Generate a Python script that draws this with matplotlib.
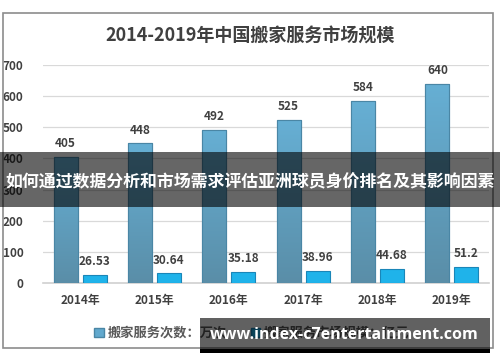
import matplotlib
matplotlib.use("Agg")
import matplotlib.pyplot as plt
import numpy as np
from matplotlib.patches import Rectangle
from matplotlib.colors import LinearSegmentedColormap

plt.rcParams['font.family'] = ['Noto Sans CJK SC', 'DejaVu Sans']

years = ['2014年', '2015年', '2016年', '2017年', '2018年', '2019年']
service_counts = [405, 448, 492, 525, 584, 640]
market_size = [26.53, 30.64, 35.18, 38.96, 44.68, 51.2]
count_labels = ['405', '448', '492', '525', '584', '640']
size_labels = ['26.53', '30.64', '35.18', '38.96', '44.68', '51.2']
legend_names = ['搬家服务次数：万次', '搬家服务市场规模：亿元']
title = '2014-2019年中国搬家服务市场规模'
banner = '如何通过数据分析和市场需求评估亚洲球员身价排名及其影响因素'
watermark = 'www.index-c7entertainment.com'

W, H = 500, 362
fig = plt.figure(figsize=(W / 100, H / 100), dpi=100)
fig.patch.set_facecolor('white')

# outer frame
fig.add_artist(Rectangle((3 / W, 1 - 348 / H), 490 / W, 335 / H, transform=fig.transFigure,
                         fill=False, edgecolor='#8c8c8c', linewidth=1.2))

ax = fig.add_axes([43 / W, 1 - 283 / H, 446 / W, 218 / H])
x = np.arange(len(years))
bw = 0.32
gap = 0.07
c1 = '#62a9ce'
c2 = '#1fb3ea'
b1 = ax.bar(x - (bw + gap) / 2, service_counts, bw, color=c1, edgecolor='#4a86a5', linewidth=0.8, zorder=3)
b2 = ax.bar(x + (bw + gap) / 2, market_size, bw, color=c2, edgecolor='#1a86b8', linewidth=0.8, zorder=3)

# gentle vertical gradient on tall bars
cmap = LinearSegmentedColormap.from_list('g', ['#5a8ea8', '#66afd4'])
grad = np.linspace(0, 1, 100).reshape(-1, 1)
for r in b1:
    x0, w, h = r.get_x(), r.get_width(), r.get_height()
    im = ax.imshow(grad, extent=[x0, x0 + w, 0, h], origin='lower', aspect='auto', cmap=cmap, zorder=3.1)
    im.set_clip_path(r)
    ax.add_patch(Rectangle((x0, 0), w, h, fill=False, edgecolor='#4a86a5', linewidth=0.8, zorder=3.2))

for r, lab in zip(b1, count_labels):
    ax.annotate(lab, (r.get_x() + r.get_width() / 2, r.get_height()), xytext=(0, 5),
                textcoords='offset points', ha='center', va='bottom', fontsize=8.5,
                fontweight='bold', color='#404040', zorder=5)
for r, lab in zip(b2, size_labels):
    ax.annotate(lab, (r.get_x() + r.get_width() / 2, r.get_height()), xytext=(0, 5),
                textcoords='offset points', ha='center', va='bottom', fontsize=8.5,
                fontweight='bold', color='#404040', zorder=5)

ax.set_xlim(-0.5, len(years) - 0.5)
ax.set_ylim(0, 700)
ax.set_yticks(np.arange(0, 701, 100))
ax.set_xticks(x)
ax.set_xticklabels(years)
ax.grid(axis='y', color='#d9d9d9', linewidth=0.9, zorder=0)
ax.set_axisbelow(True)
for s in ['top', 'right', 'left']:
    ax.spines[s].set_visible(False)
ax.spines['bottom'].set_color('#d0d0d0')
ax.spines['bottom'].set_linewidth(1.2)
ax.tick_params(axis='both', length=0, labelsize=8.5, labelcolor='#404040')
ax.tick_params(axis='y', pad=14)
ax.tick_params(axis='x', pad=8)
for t in ax.get_xticklabels() + ax.get_yticklabels():
    t.set_fontweight('bold')

fig.text(0.5, 1 - 36 / H, title, ha='center', va='center', fontsize=13,
         fontweight='bold', color='#404040')

handles = [Rectangle((0, 0), 1, 1, facecolor=c1, edgecolor='#4a86a5'),
           Rectangle((0, 0), 1, 1, facecolor=c2, edgecolor='#1a86b8')]
leg = fig.legend(handles, legend_names, loc='center', bbox_to_anchor=(252 / W, 1 - 333 / H),
                 ncol=2, frameon=False, fontsize=9.5, handlelength=0.7, handleheight=0.7,
                 handletextpad=0.3, columnspacing=1.8)
for t in leg.get_texts():
    t.set_color('#595959')
    t.set_fontweight('bold')

# banner overlay
fig.add_artist(Rectangle((0, 1 - 207 / H), 1, 55 / H, transform=fig.transFigure,
                         facecolor='black', alpha=0.6, edgecolor='none', zorder=10))
fig.text(0.5, 1 - 182 / H, banner, ha='center', va='center', fontsize=12.2,
         fontweight='bold', color='white', zorder=11)

# watermark
fig.add_artist(Rectangle((200 / W, 1 - 349 / H), 290 / W, 31 / H, transform=fig.transFigure,
                         facecolor='black', alpha=0.62, edgecolor='none', zorder=10))
fig.add_artist(Rectangle((200 / W, 1 - 353 / H), 290 / W, 4 / H, transform=fig.transFigure,
                         facecolor='black', alpha=1.0, edgecolor='none', zorder=10))
fig.text(344 / W, 1 - 335 / H, watermark, ha='center', va='center', fontsize=11.5,
         fontweight='bold', color='white', family=['Open Sans', 'DejaVu Sans'], zorder=11)

fig.savefig('out.png', dpi=100)
